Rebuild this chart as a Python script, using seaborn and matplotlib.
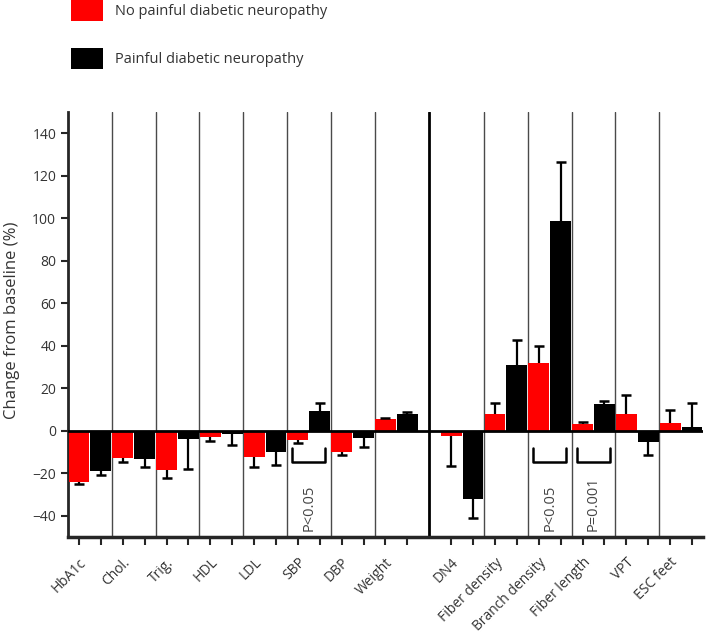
import numpy as np
import pandas as pd
import matplotlib
matplotlib.use("Agg")
import matplotlib.pyplot as plt
import matplotlib.transforms as mtransforms
from matplotlib.patches import Patch
import seaborn as sns

# DATA
cats_left = ["HbA1c", "Chol.", "Trig.", "HDL", "LDL", "SBP", "DBP", "Weight"]
cats_right = ["DN4", "Fiber density", "Branch density", "Fiber length", "VPT", "ESC feet"]

no_pain = [-24, -12.7, -18.3, -3, -12.2, -4.2, -9.9, 5.3,
           -2.5, 7.7, 31.8, 3.3, 7.8, 3.6]
no_pain_err = [1, 2, 4, 2, 5, 1.5, 1.5, 0.5,
               14, 5.5, 8, 0.7, 9, 6]

pain = [-19, -13.3, -3.8, -1.6, -10, 9.2, -3.5, 7.8,
        -32, 30.7, 98.7, 12.8, -5.2, 1.6]
pain_err = [2, 4, 14, 5, 6, 4, 4, 1,
            9, 12, 28, 1.3, 6, 11.5]

groups = ["No painful diabetic neuropathy", "Painful diabetic neuropathy"]
colors = ["#ff0000", "#000000"]

# significance brackets: (category, text)
sig = [("SBP", "P<0.05"), ("Branch density", "P<0.05"), ("Fiber length", "P=0.001")]

# category centres: two bars per category, one empty slot between the panels
categories = cats_left + cats_right
centers = [2 * i + 0.5 for i in range(len(cats_left))] + \
          [2 * len(cats_left) + 1 + 2 * j + 0.5 for j in range(len(cats_right))]

df = pd.DataFrame({
    "pos": centers * 2,
    "value": no_pain + pain,
    "group": [groups[0]] * len(categories) + [groups[1]] * len(categories),
})

sns.set_style("ticks")
plt.rcParams["font.family"] = ["Open Sans", "DejaVu Sans"]
plt.rcParams["text.color"] = "#333333"

fig = plt.figure(figsize=(7.09, 6.36), dpi=100)
ax = fig.add_axes([0.0959, 0.1557, 0.8956, 0.6682])

sns.barplot(
    data=df, x="pos", y="value", hue="group", hue_order=groups,
    palette=colors, saturation=1, native_scale=True, width=1.0, gap=0.05,
    errorbar=None, linewidth=0, legend=False, ax=ax, zorder=3
)

# one sided error bars
tick_pos = []
tick_lab = []
for k, (cont, errs) in enumerate(zip(ax.containers, [no_pain_err, pain_err])):
    for i, (bar, e) in enumerate(zip(cont, errs)):
        x = bar.get_x() + bar.get_width() / 2
        h = bar.get_height()
        end = h + np.sign(h) * e
        ax.vlines(x, h, end, color="black", lw=1.6, zorder=4)
        ax.plot([x], [end], marker="_", ms=7, mew=1.8, color="black", zorder=4)
        tick_pos.append(x)
        tick_lab.append(categories[i] if k == 0 else "")

order = np.argsort(tick_pos)
ax.set_xticks(np.array(tick_pos)[order])
ax.set_xticklabels(np.array(tick_lab)[order], rotation=45, ha="right", va="top",
                   rotation_mode="anchor", fontsize=10, color="#333333")
shift = mtransforms.ScaledTranslation(-1.5 / 72, 0, fig.dpi_scale_trans)
for lab in ax.get_xticklabels():
    lab.set_transform(lab.get_transform() + shift)

# separators between categories
n_left = len(cats_left)
for a, b in zip(centers[:n_left - 1], centers[1:n_left]):
    ax.axvline((a + b) / 2, color="#4a4a4a", lw=1, zorder=1)
for a, b in zip(centers[n_left:-1], centers[n_left + 1:]):
    ax.axvline((a + b) / 2, color="#4a4a4a", lw=1, zorder=1)
ax.axvline((centers[n_left - 1] + centers[n_left]) / 2, color="black", lw=2, zorder=1)

ax.axhline(0, color="black", lw=2, zorder=5)

# significance brackets
for cat, txt in sig:
    c = centers[categories.index(cat)]
    ax.plot([c - 0.75, c - 0.75, c + 0.75, c + 0.75], [-8, -14.5, -14.5, -8],
            color="black", lw=1.8, zorder=4)
    ax.text(c, -47, txt, rotation=90, ha="center", va="bottom",
            fontsize=10.5, color="#444444")

ax.set_xlim(-0.5, centers[-1] + 1.0)
ax.set_ylim(-50, 150)
ax.set_yticks(range(-40, 141, 20))
ax.tick_params(axis="y", length=5, width=1.5, labelsize=10, labelcolor="#333333")
ax.tick_params(axis="x", length=6, width=1.5, pad=7)
ax.set_xlabel("")
ax.set_ylabel("Change from baseline (%)", fontsize=12, color="#333333")
ax.yaxis.set_label_coords(-0.075, 0.51)

sns.despine(ax=ax)
ax.spines["left"].set_linewidth(2)
ax.spines["bottom"].set_linewidth(2.5)

handles = [Patch(facecolor=c, edgecolor="none") for c in colors]
fig.legend(handles, groups, loc="upper left", bbox_to_anchor=(71 / 709, 1.0),
           frameon=False, fontsize=10.5, handlelength=2.2, handleheight=1.87,
           handletextpad=0.8, labelspacing=1.8, borderpad=0, borderaxespad=0,
           labelcolor="#333333")

fig.savefig("out.png", dpi=100)
